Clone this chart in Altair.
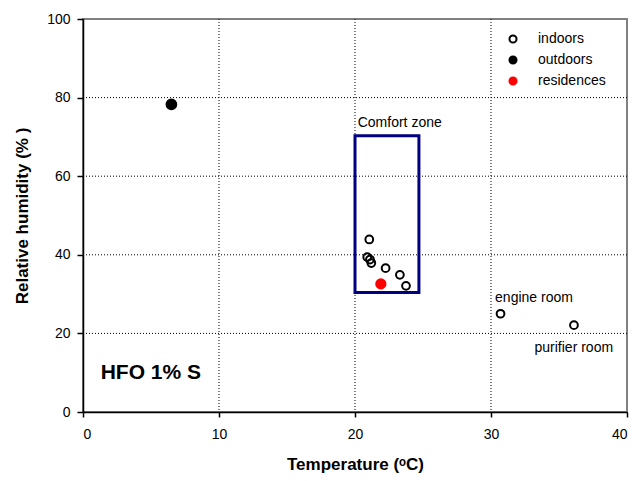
import altair as alt
import pandas as pd

# ---- data ----
temp_indoor = [21.05, 20.9, 21.1, 21.2, 22.25, 23.3, 23.75, 30.7, 36.1]
rh_indoor = [43.9, 39.4, 38.8, 37.9, 36.6, 34.9, 32.1, 25.0, 22.1]
temp_outdoor = [6.5]
rh_outdoor = [78.3]
temp_res = [21.9]
rh_res = [32.6]
categories = ["indoors", "outdoors", "residences"]
marker_area = [60, 95, 85]

comfort_temp = [20.0, 24.7]
comfort_rh = [30.4, 70.3]

notes = ["Comfort zone", "engine room", "purifier room"]
note_x = [20.2, 30.3, 33.2]
note_y = [73.5, 29.0, 16.3]

panel_label = ["HFO 1% S"]
panel_x = [1.3]
panel_y = [9.9]

x_ticks = [0, 10, 20, 30, 40]
y_ticks = [0, 20, 40, 60, 80, 100]

FONT = "Liberation Sans"

# ---- tables ----
cats = ([categories[0]] * len(temp_indoor) + [categories[1]] * len(temp_outdoor)
        + [categories[2]] * len(temp_res))
pts = pd.DataFrame(
    {
        "T": temp_indoor + temp_outdoor + temp_res,
        "RH": rh_indoor + rh_outdoor + rh_res,
        "cat": cats,
        "sz": [marker_area[categories.index(c)] for c in cats],
    }
)
box = pd.DataFrame({"x": [comfort_temp[0]], "x2": [comfort_temp[1]],
                    "y": [comfort_rh[0]], "y2": [comfort_rh[1]]})
notes_df = pd.DataFrame({"label": notes, "x": note_x, "y": note_y})
panel_df = pd.DataFrame({"label": panel_label, "x": panel_x, "y": panel_y})

xscale = alt.Scale(domain=[0, 40], nice=False, zero=False)
yscale = alt.Scale(domain=[0, 100], nice=False, zero=False)

xaxis = alt.Axis(
    values=x_ticks, title="Temperature (ᵒC)", grid=False,
    tickSize=5, labelPadding=10, titlePadding=15,
)
yaxis = alt.Axis(
    values=y_ticks, title="Relative humidity (% )", grid=False,
    tickSize=6, labelPadding=7, titlePadding=15,
)

# dotted gridlines (only interior ticks)
xgrid = alt.Chart(pd.DataFrame({"v": x_ticks[1:-1]})).mark_rule(
    color="black", strokeDash=[1, 2], strokeWidth=1
).encode(x=alt.X("v:Q", scale=xscale, axis=xaxis))
ygrid = alt.Chart(pd.DataFrame({"v": y_ticks[1:-1]})).mark_rule(
    color="black", strokeDash=[1, 2], strokeWidth=1
).encode(y=alt.Y("v:Q", scale=yscale, axis=yaxis))

rect = alt.Chart(box).mark_rect(
    fillOpacity=0, stroke="#000080", strokeWidth=3
).encode(
    x=alt.X("x:Q", scale=xscale),
    x2="x2:Q",
    y=alt.Y("y:Q", scale=yscale),
    y2="y2:Q",
)

points = alt.Chart(pts).mark_point(shape="circle", strokeWidth=2, opacity=1).encode(
    x=alt.X("T:Q", scale=xscale),
    y=alt.Y("RH:Q", scale=yscale),
    fill=alt.Fill(
        "cat:N",
        scale=alt.Scale(domain=categories, range=["transparent", "black", "red"]),
        legend=alt.Legend(title=None),
    ),
    stroke=alt.Stroke(
        "cat:N",
        scale=alt.Scale(domain=categories, range=["black", "black", "red"]),
        legend=alt.Legend(title=None),
    ),
    size=alt.Size("sz:Q", scale=None, legend=None),
)

note_text = alt.Chart(notes_df).mark_text(
    align="left", baseline="middle", font=FONT, fontSize=14, color="black"
).encode(x=alt.X("x:Q", scale=xscale), y=alt.Y("y:Q", scale=yscale), text="label:N")

panel_text = alt.Chart(panel_df).mark_text(
    align="left", baseline="middle", font=FONT, fontSize=21, fontWeight="bold", color="black"
).encode(x=alt.X("x:Q", scale=xscale), y=alt.Y("y:Q", scale=yscale), text="label:N")

chart = (
    alt.layer(xgrid, ygrid, rect, points, note_text, panel_text)
    .properties(
        width=544,
        height=393,
        autosize=alt.AutoSizeParams(type="none"),
        padding={"left": 75, "top": 11, "right": 3, "bottom": 61},
        background="white",
    )
    .configure_view(stroke="#808080", strokeWidth=2)
    .configure_axis(
        labelFont=FONT, labelFontSize=14, labelColor="black",
        titleFont=FONT, titleFontSize=17, titleFontWeight="bold", titleColor="black",
        domainColor="black", domainWidth=1.5, tickColor="black", tickWidth=1.5,
    )
    .configure_legend(
        orient="none", legendX=423, legendY=13, padding=0,
        labelFont=FONT, labelFontSize=14, labelColor="black",
        symbolSize=50, symbolStrokeWidth=2, labelOffset=18, rowPadding=5,
    )
)

chart.save("out.html", embed_options={"renderer": "svg", "actions": False})
